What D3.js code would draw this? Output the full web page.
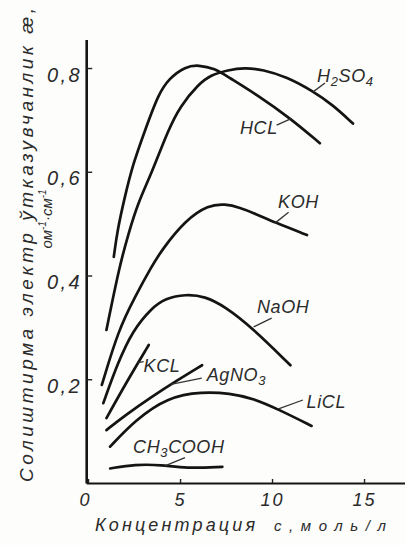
<!DOCTYPE html>
<html><head><meta charset="utf-8">
<script src="https://cdn.jsdelivr.net/npm/d3@7"></script>
<style>
html,body{margin:0;padding:0;background:#fdfdfb;}
svg{display:block;}
text{font-family:"Liberation Sans",Arial,sans-serif;font-style:italic;fill:#2b2b2b;}
</style></head><body>
<svg id="c" width="405" height="545"></svg>
<script>
// ---- data (concentration c, mol/l ; specific conductivity, Ohm^-1 cm^-1) ----
const xTicks = [0, 5, 10, 15];
const yTicks = [0.2, 0.4, 0.6, 0.8];
const H2SO4_c = [1.0, 1.7, 2.2, 2.7, 3.45, 4.35, 5.0, 6.0, 6.7, 7.6, 8.5, 9.5, 10.8, 12.2, 13.3, 14.4];
const H2SO4_k = [0.295, 0.417, 0.481, 0.539, 0.597, 0.680, 0.726, 0.769, 0.787, 0.796, 0.801, 0.797, 0.783, 0.756, 0.729, 0.693];
const HCL_c = [1.4, 1.6, 2.0, 2.45, 3.1, 3.8, 4.4, 5.3, 6.0, 6.9, 7.6, 9.2, 11.0, 12.6];
const HCL_k = [0.436, 0.488, 0.552, 0.616, 0.680, 0.748, 0.780, 0.803, 0.806, 0.799, 0.783, 0.748, 0.703, 0.655];
const KOH_c = [0.75, 1.65, 2.55, 3.45, 4.0, 5.3, 6.55, 7.45, 8.25, 9.1, 10.1, 11.9];
const KOH_k = [0.189, 0.295, 0.359, 0.417, 0.449, 0.507, 0.536, 0.538, 0.531, 0.519, 0.503, 0.478];
const NaOH_c = [0.83, 1.63, 2.45, 3.45, 4.2, 5.3, 6.35, 7.45, 8.9, 11.0];
const NaOH_k = [0.154, 0.233, 0.295, 0.337, 0.356, 0.364, 0.360, 0.340, 0.300, 0.227];
const KCL_c = [1.0, 2.1, 3.3];
const KCL_k = [0.125, 0.195, 0.266];
const AgNO3_c = [1.0, 2.0, 3.45, 4.9, 6.2];
const AgNO3_k = [0.102, 0.130, 0.166, 0.199, 0.227];
const LiCL_c = [1.2, 2.55, 4.35, 6.2, 7.7, 9.0, 10.4, 12.15];
const LiCL_k = [0.070, 0.121, 0.166, 0.176, 0.173, 0.163, 0.141, 0.110];
const CH3COOH_c = [1.2, 2.55, 4.0, 5.3, 7.3];
const CH3COOH_k = [0.028, 0.036, 0.035, 0.028, 0.031];

const seriesNames = ["H2SO4", "HCL", "KOH", "NaOH", "KCL", "AgNO3", "LiCL", "CH3COOH"];
const seriesC = [H2SO4_c, HCL_c, KOH_c, NaOH_c, KCL_c, AgNO3_c, LiCL_c, CH3COOH_c];
const seriesK = [H2SO4_k, HCL_k, KOH_k, NaOH_k, KCL_k, AgNO3_k, LiCL_k, CH3COOH_k];
// label text pieces: [text, subscript?]
const labelParts = [
  [["H", 0], ["2", 1], ["SO", 0], ["4", 1]],
  [["HCL", 0]],
  [["KOH", 0]],
  [["NaOH", 0]],
  [["KCL", 0]],
  [["AgNO", 0], ["3", 1]],
  [["LiCL", 0]],
  [["CH", 0], ["3", 1], ["COOH", 0]]
];
const yTitle = "Солиштирма электр ўтказувчанлик æ,";
const xTitleA = "Концентрация";
const xTitleB = "с,моль/л";

// ---- layout (label anchors in data units) ----
const labelAt = [[12.45, 0.773], [8.26, 0.673], [10.33, 0.530], [9.18, 0.328],
                 [3.02, 0.214], [6.45, 0.197], [11.88, 0.145], [2.45, 0.058]];
const leaderAt = [
  [[12.23, 0.754], [12.88, 0.771]],
  [[10.25, 0.690], [11.07, 0.703]],
  [[10.16, 0.501], [10.9, 0.522]],
  [[9.0, 0.301], [9.98, 0.318]],
  [[2.72, 0.232], [3.02, 0.234]],
  [[4.5, 0.190], [6.18, 0.202]],
  [[10.35, 0.143], [11.68, 0.160]],
  [[4.18, 0.033], [5.27, 0.049]]
];

const svg = d3.select("#c");
const W = 405, H = 545;
svg.append("rect").attr("width", W).attr("height", H).attr("fill", "#fdfdfb");

const x = d3.scaleLinear().domain([-0.1, 17.2]).range([86.2, 404.5]);
const y = d3.scaleLinear().domain([0, 0.855]).range([483, 39.5]);

// axes
const yAxis = d3.axisLeft(y).tickValues(yTicks).tickSizeInner(-6).tickSizeOuter(0).tickPadding(4)
  .tickFormat(d => d3.format(".1f")(d).replace(".", ","));
const gy = svg.append("g").attr("transform", `translate(${x(-0.1)},0)`).call(yAxis);
gy.select(".domain").attr("stroke", "#151515").attr("stroke-width", 2.6);
gy.selectAll(".tick line").attr("stroke", "#222").attr("stroke-width", 1.4);
gy.selectAll(".tick text").attr("font-size", 20).attr("letter-spacing", 2.5)
  .attr("font-family", null).attr("dy", 13).attr("fill", "#2b2b2b");

const xAxis = d3.axisBottom(x).tickValues(xTicks).tickSizeInner(-4).tickSizeOuter(0).tickPadding(10)
  .tickFormat(d3.format("d"));
const gx = svg.append("g").attr("transform", `translate(0,${y(0)})`).call(xAxis);
gx.select(".domain").attr("stroke", "#151515").attr("stroke-width", 2);
gx.selectAll(".tick line").attr("stroke", "#222").attr("stroke-width", 1.4);
gx.selectAll(".tick text").attr("font-size", 18).attr("letter-spacing", 2)
  .attr("font-family", null).attr("fill", "#2b2b2b");
gx.selectAll(".tick text").filter(d => d === 0).attr("dx", -3);

// curves
const line = d3.line().x(d => x(d[0])).y(d => y(d[1])).curve(d3.curveBasis);
seriesNames.forEach((n, i) => {
  const pts = seriesC[i].map((c, j) => [c, seriesK[i][j]]);
  svg.append("path").attr("d", line(pts)).attr("fill", "none")
    .attr("stroke", "#141414").attr("stroke-width", 2.7).attr("stroke-linecap", "round");
});

// leaders and labels
seriesNames.forEach((n, i) => {
  const L = leaderAt[i];
  svg.append("line").attr("x1", x(L[0][0])).attr("y1", y(L[0][1]))
    .attr("x2", x(L[1][0])).attr("y2", y(L[1][1]))
    .attr("stroke", "#333").attr("stroke-width", 1.3);
  const t = svg.append("text").attr("x", x(labelAt[i][0])).attr("y", y(labelAt[i][1]))
    .attr("font-size", 18).attr("letter-spacing", 0.6);
  let sub = false;
  labelParts[i].forEach(p => {
    const ts = t.append("tspan").text(p[0]);
    if (p[1] && !sub) { ts.attr("dy", 4).attr("font-size", 13); sub = true; }
    else if (p[1]) { ts.attr("font-size", 13); }
    else if (sub) { ts.attr("dy", -4); sub = false; }
  });
});

// axis titles
svg.append("text").attr("transform", "translate(33,245) rotate(-90)")
  .attr("text-anchor", "middle").attr("font-size", 19)
  .attr("textLength", 474).attr("lengthAdjust", "spacing").text(yTitle);
const u = svg.append("text").attr("transform", "translate(52,219) rotate(-90)")
  .attr("text-anchor", "middle").attr("font-size", 15);
u.append("tspan").text("ом");
u.append("tspan").attr("dy", -6).attr("font-size", 10).text("-1");
u.append("tspan").attr("dy", 6).text("·см");
u.append("tspan").attr("dy", -6).attr("font-size", 10).text("-1");

svg.append("text").attr("x", 95).attr("y", 531).attr("font-size", 18)
  .attr("textLength", 160).attr("lengthAdjust", "spacing").text(xTitleA);
svg.append("text").attr("x", 274).attr("y", 531).attr("font-size", 15)
  .attr("textLength", 112).attr("lengthAdjust", "spacing").text(xTitleB);
</script>
</body></html>
